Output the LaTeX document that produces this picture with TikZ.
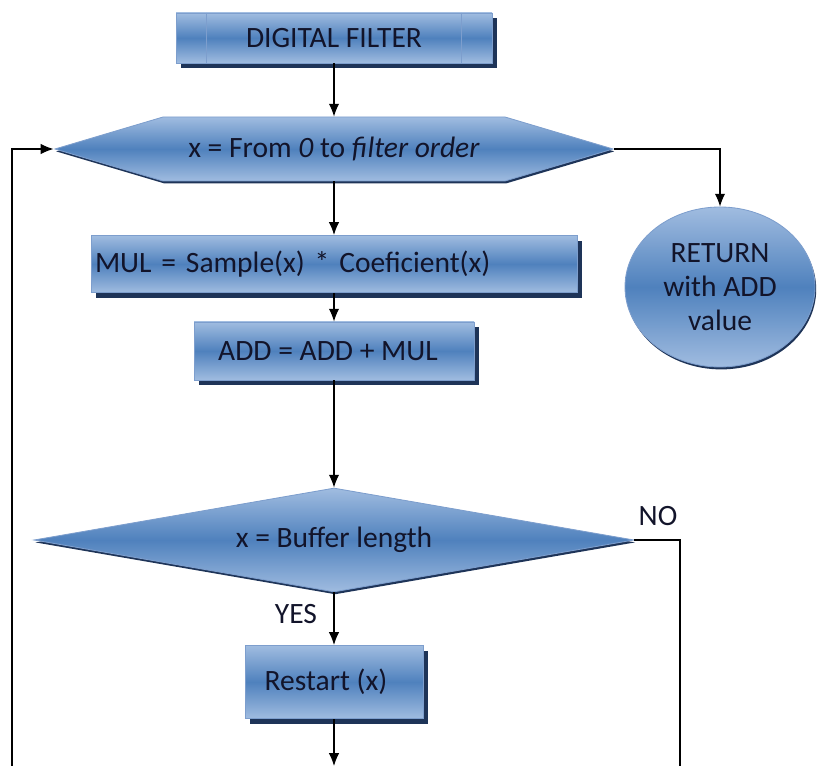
\documentclass[tikz,border=0pt]{standalone}
\usepackage{fontspec}
\setmainfont{Carlito}
\usetikzlibrary{shapes.geometric,shapes.symbols,shadows,arrows.meta}

\definecolor{boxlight}{RGB}{160,188,224}
\definecolor{boxdark}{RGB}{79,129,189}
\definecolor{boxline}{RGB}{125,158,205}
\definecolor{boxshadow}{RGB}{30,52,88}
\definecolor{boxtext}{RGB}{18,20,42}

\begin{document}
\begin{tikzpicture}
  [font=\fontsize{21}{24}\selectfont, >={Latex[length=3.2mm,width=2.6mm]},
   every node/.style={text=boxtext,align=center,inner sep=0pt},
   fcshape/.style={draw=boxline,line width=0.6pt,top color=boxlight,bottom color=boxlight,middle color=boxdark},
   procbox/.style={fcshape,rectangle,drop shadow={shadow xshift=0.13cm,shadow yshift=-0.13cm,fill=boxshadow,opacity=1}},
   softshade/.style={fcshape,drop shadow={shadow xshift=0.03cm,shadow yshift=-0.06cm,fill=boxshadow,opacity=1}},
   flow/.style={->,line width=0.8pt}]
  \useasboundingbox (0,0) rectangle (20.5,-19.15);

  \node[procbox,minimum width=7.9cm,minimum height=1.25cm] (title) at (8.35,-0.95) {DIGITAL FILTER};
  \node[softshade,shape=signal,signal to=west and east,signal pointer angle=33,
        minimum width=13.95cm,minimum height=1.6cm] (loop) at (8.35,-3.725) {x = From \textit{0} to \textit{filter order}};
  \node[procbox,minimum width=12.15cm,minimum height=1.43cm,text width=11.95cm,align=left] (mul) at (8.35,-6.6) {MUL = Sample(x) * Coeficient(x)};
  \node[softshade,ellipse,minimum width=4.75cm,minimum height=4cm] (ret) at (18,-7.175) {RETURN\\with ADD\\value};
  \node[procbox,minimum width=7cm,minimum height=1.45cm] (add) at (8.35,-8.775) {\hspace*{-0.3cm}ADD = ADD + MUL};
  \node[softshade,diamond,aspect=5.77,minimum width=15cm,minimum height=2.6cm] (test) at (8.35,-13.5) {x = Buffer length};
  \node[procbox,minimum width=4.45cm,minimum height=1.83cm] (restart) at (8.35,-17.05) {\hspace*{-0.4cm}Restart (x)};

  \node (no) at (16.45,-12.9) {NO};
  \node (yes) at (7.4,-15.35) {YES};

  \coordinate (lb) at (0.3,-19.15);
  \coordinate (nb) at (17,-19.15);
  \coordinate (rb) at (8.35,-19.15);

  % predefined process side bars
  \draw[boxline,line width=0.6pt] ([xshift=0.78cm]title.north west) -- ([xshift=0.78cm]title.south west);
  \draw[boxline,line width=0.6pt] ([xshift=-0.78cm]title.north east) -- ([xshift=-0.78cm]title.south east);

  \foreach \from/\to in {title/loop,loop/mul,mul/add,add/test,test/restart,restart/rb}
    \draw[flow] (\from.south) -- (\to.north);

  \draw[flow] (loop.east) -| (ret.north);
  \draw[flow] (lb) |- (loop.west);
  \draw[line width=0.8pt] (test.east) -| (nb);

\end{tikzpicture}
\end{document}
